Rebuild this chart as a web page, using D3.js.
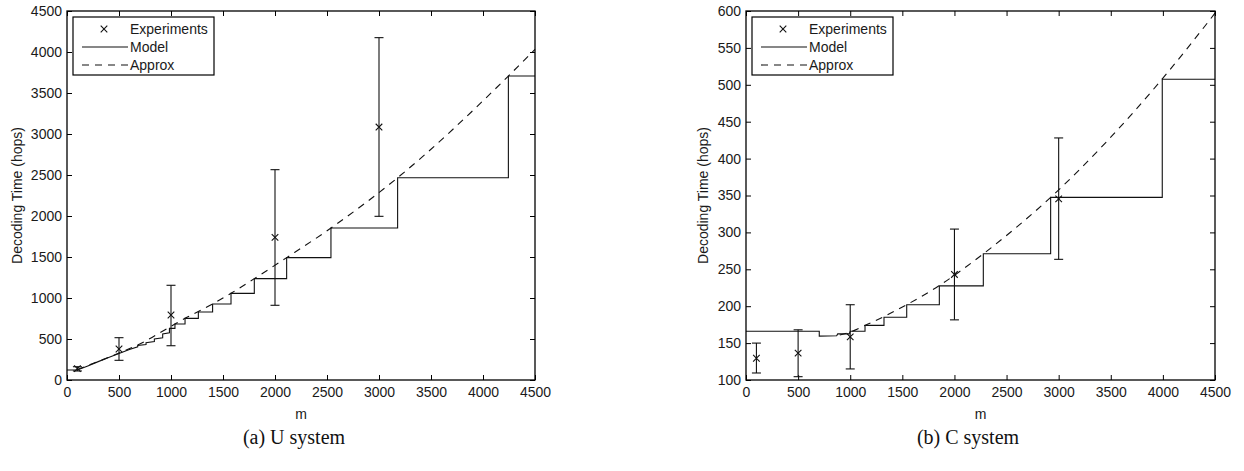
<!DOCTYPE html>
<html>
<head>
<meta charset="utf-8">
<script src="https://cdn.jsdelivr.net/npm/d3@7"></script>
<style>
  body { margin: 0; background: #fff; }
  svg { display: block; }
  .tick text { font-family: "Liberation Sans", Arial, sans-serif; font-size: 14px; fill: #1a1a1a; }
  .tick line { stroke: #000; }
  .domain { display: none; }
</style>
</head>
<body>
<svg id="chart" width="1244" height="471"></svg>
<script>
// x positions of the experiments
var expM = [100, 500, 1000, 2000, 3000];

// (a) U system
var uExpMean = [138, 378, 793, 1740, 3085];
var uExpLow = [110, 240, 418, 911, 1996];
var uExpHigh = [162, 516, 1155, 2565, 4175];
var uModel = [[0,122],[100,122],[200,172],[300,224],[400,274],[500,322],[600,372],[680,405],[680,420],
  [760,432],[760,455],[840,470],[840,500],[920,515],[920,560],[985,575],[985,630],[1038,630],[1038,683],
  [1135,683],[1135,752],[1263,752],[1263,830],[1400,830],[1400,927],[1577,927],[1577,1057],[1801,1057],
  [1801,1236],[2112,1236],[2112,1492],[2538,1492],[2538,1853],[3179,1853],[3179,2467],[4244,2467],
  [4244,3707],[4500,3707]];
var uApprox = [[100,128],[300,226],[500,328],[700,440],[1000,655],[1135,752],[1263,835],[1400,927],
  [1577,1057],[1801,1236],[2112,1492],[2538,1853],[3179,2467],[4244,3707],[4500,4033]];
var uYTicks = [0, 500, 1000, 1500, 2000, 2500, 3000, 3500, 4000, 4500];

// (b) C system
var cExpMean = [129.5, 136.5, 158.5, 243, 345.5];
var cExpLow = [109.5, 104.5, 115, 181.5, 263.5];
var cExpHigh = [150, 168, 202, 304.5, 428];
var cModel = [[0,166],[703,166],[703,159.5],[870,160],[880,162.5],[990,162.5],[1000,166],[1142,166],
  [1142,174],[1324,174],[1324,185],[1542,185],[1542,202],[1855,202],[1855,227.5],[2277,227.5],
  [2277,271],[2923,271],[2923,347.5],[3994,347.5],[3994,507.5],[4500,507.5]];
var cApprox = [[900,161],[1000,165],[1142,174],[1324,186],[1542,202],[1855,228],[2277,271],
  [2923,347.5],[3994,508],[4500,597]];
var cYTicks = [100, 150, 200, 250, 300, 350, 400, 450, 500, 550, 600];

var xTicks = [0, 500, 1000, 1500, 2000, 2500, 3000, 3500, 4000, 4500];
var legendNames = ['Experiments', 'Model', 'Approx'];

var svg = d3.select('#chart');
svg.append('rect').attr('width', 1244).attr('height', 471).attr('fill', '#fff');

var fmt = d3.format('d');

function draw_panel(p) {
    var width = p.right - p.left;
    var height = p.bottom - p.top;
    var g = svg.append('g').attr('transform', 'translate(' + p.left + ',' + p.top + ')');

    var x = d3.scaleLinear().domain([0, 4500]).range([0, width]);
    var y = d3.scaleLinear().domain(p.yDomain).range([height, 0]);

    // axes, ticks pointing inwards on all four sides
    g.append('g').attr('transform', 'translate(0,' + height + ')')
        .call(d3.axisBottom(x).tickValues(xTicks).tickSize(-5).tickSizeOuter(0).tickPadding(7).tickFormat(fmt));
    g.append('g')
        .call(d3.axisTop(x).tickValues(xTicks).tickSize(-5).tickSizeOuter(0).tickFormat(''));
    g.append('g')
        .call(d3.axisLeft(y).tickValues(p.yTicks).tickSize(-5).tickSizeOuter(0).tickPadding(5).tickFormat(fmt));
    g.append('g').attr('transform', 'translate(' + width + ',0)')
        .call(d3.axisRight(y).tickValues(p.yTicks).tickSize(-5).tickSizeOuter(0).tickFormat(''));

    // model (step) line
    var line = d3.line().x(function(d) { return x(d[0]); }).y(function(d) { return y(d[1]); });
    g.append('path').attr('d', line(p.model))
        .attr('fill', 'none').attr('stroke', '#111').attr('stroke-width', 1.1);

    // approximation, dashed
    var smooth = d3.line().curve(d3.curveMonotoneX)
        .x(function(d) { return x(d[0]); }).y(function(d) { return y(d[1]); });
    g.append('path').attr('d', smooth(p.approx))
        .attr('fill', 'none').attr('stroke', '#111').attr('stroke-width', 1.1)
        .attr('stroke-dasharray', '7,6');

    // experiments with error bars
    expM.forEach(function(m, i) {
        var cx = x(m);
        g.append('line').attr('x1', cx).attr('x2', cx)
            .attr('y1', y(p.low[i])).attr('y2', y(p.high[i]))
            .attr('stroke', '#111').attr('stroke-width', 1.1);
        [p.low[i], p.high[i]].forEach(function(v) {
            g.append('line').attr('x1', cx - 4.5).attr('x2', cx + 4.5)
                .attr('y1', y(v)).attr('y2', y(v))
                .attr('stroke', '#111').attr('stroke-width', 1.1);
        });
        g.append('path').attr('d', d3.symbol(d3.symbolX, 30)())
            .attr('transform', 'translate(' + cx + ',' + y(p.mean[i]) + ')')
            .attr('fill', 'none').attr('stroke', '#111').attr('stroke-width', 1.1);
    });

    // frame
    g.append('rect').attr('width', width).attr('height', height)
        .attr('fill', 'none').attr('stroke', '#000').attr('stroke-width', 1.3);

    // legend
    var lg = g.append('g').attr('transform', 'translate(6,6)');
    lg.append('rect').attr('width', 141).attr('height', 58)
        .attr('fill', '#fff').attr('stroke', '#000').attr('stroke-width', 1.2);
    legendNames.forEach(function(name, i) {
        var ly = 12 + i * 18;
        if (i == 0) {
            lg.append('path').attr('d', d3.symbol(d3.symbolX, 30)())
                .attr('transform', 'translate(31,' + ly + ')')
                .attr('fill', 'none').attr('stroke', '#111').attr('stroke-width', 1.1);
        } else {
            lg.append('line').attr('x1', 9).attr('x2', 55).attr('y1', ly).attr('y2', ly)
                .attr('stroke', '#111').attr('stroke-width', 1.1)
                .attr('stroke-dasharray', i == 2 ? '7,6' : null);
        }
        lg.append('text').attr('x', 57).attr('y', ly).attr('dy', '0.35em')
            .style('font', '14px "Liberation Sans", Arial, sans-serif').style('fill', '#1a1a1a')
            .text(name);
    });

    // axis labels
    g.append('text').attr('x', width / 2).attr('y', height + 39)
        .attr('text-anchor', 'middle')
        .style('font', '14px "Liberation Sans", Arial, sans-serif').style('fill', '#1a1a1a')
        .text('m');
    g.append('text').attr('transform', 'translate(' + p.yLabelX + ',' + (height / 2) + ') rotate(-90)')
        .attr('text-anchor', 'middle').attr('dy', '0.35em')
        .style('font', '14px "Liberation Sans", Arial, sans-serif').style('fill', '#1a1a1a')
        .text('Decoding Time (hops)');

    // caption
    svg.append('text').attr('x', p.captionX).attr('y', 444)
        .attr('text-anchor', 'middle')
        .style('font', '20px "Liberation Serif", "DejaVu Serif", serif').style('fill', '#111')
        .text(p.caption);
}

draw_panel({left: 67, right: 535, top: 11, bottom: 380, yDomain: [0, 4500], yTicks: uYTicks,
    model: uModel, approx: uApprox, mean: uExpMean, low: uExpLow, high: uExpHigh,
    yLabelX: -50, captionX: 294, caption: '(a)  U system'});
draw_panel({left: 746, right: 1215, top: 11, bottom: 380, yDomain: [100, 600], yTicks: cYTicks,
    model: cModel, approx: cApprox, mean: cExpMean, low: cExpLow, high: cExpHigh,
    yLabelX: -43, captionX: 968, caption: '(b)  C system'});
</script>
</body>
</html>
